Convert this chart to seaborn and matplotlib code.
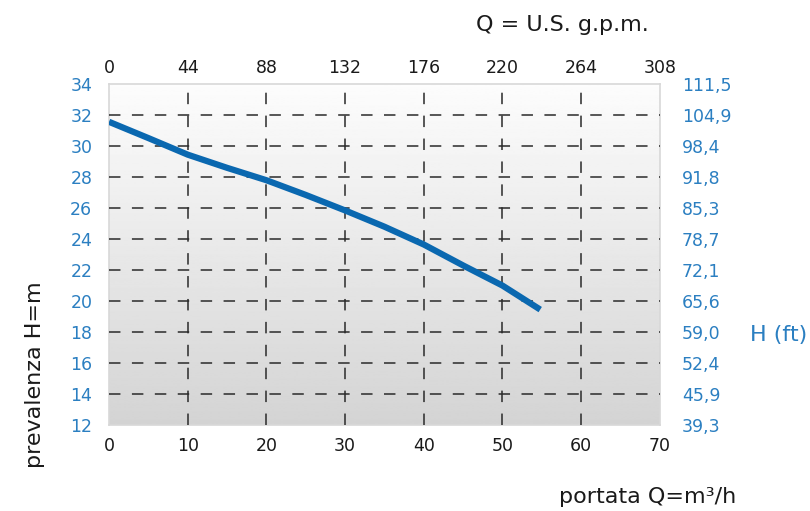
import numpy as np
import matplotlib
matplotlib.use("Agg")
import matplotlib.pyplot as plt
import seaborn as sns

# pump curve
flow_m3h = [0, 5, 10, 15, 20, 25, 30, 35, 40, 45, 50, 54.8]
head_m = [31.57, 30.52, 29.45, 28.6, 27.8, 26.85, 25.85, 24.8, 23.65, 22.3, 21.0, 19.45]

x_ticks = [0, 10, 20, 30, 40, 50, 60, 70]
y_ticks = [12, 14, 16, 18, 20, 22, 24, 26, 28, 30, 32, 34]
gpm_labels = ["0", "44", "88", "132", "176", "220", "264", "308"]
ft_labels = ["39,3", "45,9", "52,4", "59,0", "65,6", "72,1", "78,7",
             "85,3", "91,8", "98,4", "104,9", "111,5"]

BLUE = "#0a68b0"
TICK_BLUE = "#2b7fc1"

sns.set_style("white")
plt.rcParams["font.family"] = ["DejaVu Sans"]

fig = plt.figure(figsize=(8.1, 5.11), dpi=100)
ax = fig.add_axes([0.1346, 0.1683, 0.680, 0.667])

# grey vertical gradient background
grad = np.linspace(0.99, 0.83, 256).reshape(-1, 1)
ax.imshow(grad, extent=[0, 1, 0, 1], transform=ax.transAxes, aspect="auto",
          cmap="gray", vmin=0, vmax=1, zorder=0)

sns.lineplot(x=flow_m3h, y=head_m, ax=ax, color=BLUE, linewidth=4.5,
             solid_capstyle="butt", zorder=3)

ax.set_xlim(x_ticks[0], x_ticks[-1])
ax.set_ylim(y_ticks[0], y_ticks[-1])
ax.set_xticks(x_ticks)
ax.set_yticks(y_ticks)
ax.set_xlabel("")
ax.set_ylabel("")

ax.grid(True, color="#2a2a2a", linewidth=1.1, linestyle=(0, (7.5, 7.5)), zorder=2)
for gl in ax.xaxis.get_gridlines()[::len(x_ticks) - 1]:
    gl.set_visible(False)
for gl in ax.yaxis.get_gridlines()[::len(y_ticks) - 1]:
    gl.set_visible(False)
ax.set_axisbelow(False)

for sp in ax.spines.values():
    sp.set_color("#d8d8d8")
    sp.set_linewidth(1.2)

ax.tick_params(axis="x", length=0, pad=9, labelsize=12.5, labelcolor="#1a1a1a")
ax.tick_params(axis="y", length=0, pad=12, labelsize=12.5, labelcolor=TICK_BLUE)

# top axis: U.S. gpm
top = ax.twiny()
top.set_xlim(ax.get_xlim())
top.set_xticks(x_ticks)
top.set_xticklabels(gpm_labels)
top.tick_params(axis="x", length=0, pad=5, labelsize=12.5, labelcolor="#1a1a1a")

# right axis: feet
right = ax.twinx()
right.set_ylim(ax.get_ylim())
right.set_yticks(y_ticks)
right.set_yticklabels(ft_labels)
right.tick_params(axis="y", length=0, pad=16, labelsize=12.5, labelcolor=TICK_BLUE)

for a in (top, right):
    for sp in a.spines.values():
        sp.set_visible(False)
    a.grid(False)

fig.text(35 / 810, 1 - 375 / 511, "prevalenza H=m", rotation=90,
         ha="center", va="center", fontsize=16, color="#1a1a1a")
fig.text(779 / 810, 1 - 335 / 511, "H (ft)", ha="center", va="center",
         fontsize=16, color=TICK_BLUE)
fig.text(648 / 810, 1 - 497 / 511, "portata Q=m³/h", ha="center", va="center",
         fontsize=16, color="#1a1a1a")
fig.text(562 / 810, 1 - 25 / 511, "Q = U.S. g.p.m.", ha="center", va="center",
         fontsize=16, color="#1a1a1a")

fig.savefig("out.png", dpi=100)
